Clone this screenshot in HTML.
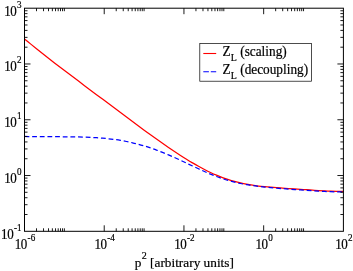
<!DOCTYPE html><html><head><meta charset="utf-8"><style>html,body{margin:0;padding:0;background:#fff;}svg{display:block;will-change:transform;opacity:0.9999}text{font-family:"Liberation Serif",serif;fill:#000;stroke:#000;stroke-width:0.2px}</style></head><body>
<svg width="353" height="271" viewBox="0 0 353 271">
<rect x="0" y="0" width="353" height="271" fill="#fff"/>
<path d="M24.50,38.90 C25.50,39.73 28.50,42.25 30.50,43.89 C32.50,45.54 34.50,47.16 36.50,48.77 C38.50,50.38 40.50,51.97 42.50,53.56 C44.50,55.14 46.50,56.71 48.50,58.26 C50.50,59.82 52.50,61.37 54.50,62.91 C56.50,64.45 58.50,65.98 60.50,67.51 C62.50,69.04 64.50,70.56 66.50,72.07 C68.50,73.59 70.50,75.10 72.50,76.61 C74.50,78.12 76.50,79.62 78.50,81.12 C80.50,82.63 82.50,84.13 84.50,85.63 C86.50,87.13 88.50,88.63 90.50,90.13 C92.50,91.63 94.50,93.13 96.50,94.63 C98.50,96.12 100.50,97.62 102.50,99.12 C104.50,100.62 106.50,102.12 108.50,103.62 C110.50,105.12 112.50,106.62 114.50,108.11 C116.50,109.61 118.50,111.11 120.50,112.60 C122.50,114.10 124.50,115.59 126.50,117.09 C128.50,118.58 130.50,120.07 132.50,121.55 C134.50,123.04 136.50,124.52 138.50,126.00 C140.50,127.47 142.50,128.94 144.50,130.41 C146.50,131.87 148.50,133.33 150.50,134.77 C152.50,136.22 154.50,137.66 156.50,139.09 C158.50,140.51 160.50,141.93 162.50,143.33 C164.50,144.73 166.50,146.11 168.50,147.48 C170.50,148.85 172.50,150.20 174.50,151.53 C176.50,152.86 178.50,154.17 180.50,155.46 C182.50,156.74 184.50,158.01 186.50,159.24 C188.50,160.48 190.50,161.69 192.50,162.86 C194.50,164.03 196.50,165.18 198.50,166.29 C200.50,167.39 202.50,168.47 204.50,169.50 C206.50,170.52 208.50,171.52 210.50,172.46 C212.50,173.41 214.50,174.31 216.50,175.16 C218.50,176.01 220.50,176.81 222.50,177.56 C224.50,178.31 226.50,179.00 228.50,179.65 C230.50,180.30 232.50,180.89 234.50,181.44 C236.50,181.99 238.50,182.49 240.50,182.95 C242.50,183.40 244.50,183.81 246.50,184.18 C248.50,184.56 250.50,184.89 252.50,185.19 C254.50,185.50 256.50,185.76 258.50,186.01 C260.50,186.26 262.50,186.47 264.50,186.68 C266.50,186.88 268.50,187.06 270.50,187.23 C272.50,187.40 274.50,187.55 276.50,187.70 C278.50,187.85 280.50,187.98 282.50,188.12 C284.50,188.26 286.50,188.39 288.50,188.52 C290.50,188.65 292.50,188.78 294.50,188.92 C296.50,189.05 298.50,189.18 300.50,189.32 C302.50,189.45 304.50,189.59 306.50,189.72 C308.50,189.86 310.50,190.00 312.50,190.13 C314.50,190.26 316.50,190.40 318.50,190.52 C320.50,190.64 322.50,190.76 324.50,190.86 C326.50,190.96 328.50,191.06 330.50,191.13 C332.50,191.20 334.50,191.26 336.50,191.28 C338.50,191.30 341.35,191.27 342.50,191.26 C343.65,191.26 343.25,191.24 343.40,191.24" fill="none" stroke="#ff0000" stroke-width="1.25"/>
<path d="M24.50,136.44 C25.50,136.46 28.50,136.52 30.50,136.56 C32.50,136.59 34.50,136.62 36.50,136.64 C38.50,136.66 40.50,136.67 42.50,136.68 C44.50,136.70 46.50,136.70 48.50,136.71 C50.50,136.72 52.50,136.72 54.50,136.73 C56.50,136.73 58.50,136.74 60.50,136.75 C62.50,136.76 64.50,136.77 66.50,136.79 C68.50,136.80 70.50,136.82 72.50,136.85 C74.50,136.88 76.50,136.92 78.50,136.97 C80.50,137.02 82.50,137.07 84.50,137.14 C86.50,137.22 88.50,137.30 90.50,137.40 C92.50,137.50 94.50,137.61 96.50,137.74 C98.50,137.87 100.50,138.02 102.50,138.20 C104.50,138.37 106.50,138.56 108.50,138.78 C110.50,139.00 112.50,139.24 114.50,139.51 C116.50,139.78 118.50,140.08 120.50,140.41 C122.50,140.74 124.50,141.10 126.50,141.49 C128.50,141.89 130.50,142.31 132.50,142.78 C134.50,143.24 136.50,143.74 138.50,144.28 C140.50,144.81 142.50,145.38 144.50,145.99 C146.50,146.60 148.50,147.24 150.50,147.92 C152.50,148.60 154.50,149.31 156.50,150.06 C158.50,150.80 160.50,151.58 162.50,152.39 C164.50,153.19 166.50,154.03 168.50,154.88 C170.50,155.74 172.50,156.63 174.50,157.53 C176.50,158.43 178.50,159.35 180.50,160.28 C182.50,161.21 184.50,162.16 186.50,163.11 C188.50,164.06 190.50,165.02 192.50,165.96 C194.50,166.91 196.50,167.86 198.50,168.79 C200.50,169.72 202.50,170.65 204.50,171.54 C206.50,172.43 208.50,173.30 210.50,174.14 C212.50,174.97 214.50,175.77 216.50,176.53 C218.50,177.29 220.50,178.00 222.50,178.68 C224.50,179.35 226.50,179.97 228.50,180.55 C230.50,181.13 232.50,181.67 234.50,182.16 C236.50,182.65 238.50,183.10 240.50,183.51 C242.50,183.92 244.50,184.29 246.50,184.63 C248.50,184.98 250.50,185.28 252.50,185.57 C254.50,185.86 256.50,186.12 258.50,186.36 C260.50,186.61 262.50,186.83 264.50,187.04 C266.50,187.25 268.50,187.44 270.50,187.62 C272.50,187.81 274.50,187.98 276.50,188.15 C278.50,188.32 280.50,188.47 282.50,188.63 C284.50,188.79 286.50,188.94 288.50,189.09 C290.50,189.24 292.50,189.38 294.50,189.53 C296.50,189.67 298.50,189.82 300.50,189.96 C302.50,190.10 304.50,190.24 306.50,190.37 C308.50,190.51 310.50,190.64 312.50,190.77 C314.50,190.89 316.50,191.01 318.50,191.13 C320.50,191.24 322.50,191.34 324.50,191.43 C326.50,191.52 328.50,191.60 330.50,191.66 C332.50,191.72 334.50,191.77 336.50,191.78 C338.50,191.80 341.35,191.77 342.50,191.76 C343.65,191.75 343.25,191.74 343.40,191.74" fill="none" stroke="#0000ff" stroke-width="1.25" stroke-dasharray="4.8,2.85"/>
<rect x="24.50" y="8.20" width="318.90" height="223.10" fill="none" stroke="#000" stroke-width="1.0"/>
<path d="M24.50,214.51 h3.00 M343.40,214.51 h-3.00 M24.50,204.69 h3.00 M343.40,204.69 h-3.00 M24.50,197.72 h3.00 M343.40,197.72 h-3.00 M24.50,192.31 h3.00 M343.40,192.31 h-3.00 M24.50,187.90 h3.00 M343.40,187.90 h-3.00 M24.50,184.16 h3.00 M343.40,184.16 h-3.00 M24.50,180.93 h3.00 M343.40,180.93 h-3.00 M24.50,178.08 h3.00 M343.40,178.08 h-3.00 M24.50,175.53 h6.00 M343.40,175.53 h-6.00 M24.50,158.74 h3.00 M343.40,158.74 h-3.00 M24.50,148.91 h3.00 M343.40,148.91 h-3.00 M24.50,141.95 h3.00 M343.40,141.95 h-3.00 M24.50,136.54 h3.00 M343.40,136.54 h-3.00 M24.50,132.12 h3.00 M343.40,132.12 h-3.00 M24.50,128.39 h3.00 M343.40,128.39 h-3.00 M24.50,125.16 h3.00 M343.40,125.16 h-3.00 M24.50,122.30 h3.00 M343.40,122.30 h-3.00 M24.50,119.75 h6.00 M343.40,119.75 h-6.00 M24.50,102.96 h3.00 M343.40,102.96 h-3.00 M24.50,93.14 h3.00 M343.40,93.14 h-3.00 M24.50,86.17 h3.00 M343.40,86.17 h-3.00 M24.50,80.76 h3.00 M343.40,80.76 h-3.00 M24.50,76.35 h3.00 M343.40,76.35 h-3.00 M24.50,72.61 h3.00 M343.40,72.61 h-3.00 M24.50,69.38 h3.00 M343.40,69.38 h-3.00 M24.50,66.53 h3.00 M343.40,66.53 h-3.00 M24.50,63.98 h6.00 M343.40,63.98 h-6.00 M24.50,47.19 h3.00 M343.40,47.19 h-3.00 M24.50,37.36 h3.00 M343.40,37.36 h-3.00 M24.50,30.40 h3.00 M343.40,30.40 h-3.00 M24.50,24.99 h3.00 M343.40,24.99 h-3.00 M24.50,20.57 h3.00 M343.40,20.57 h-3.00 M24.50,16.84 h3.00 M343.40,16.84 h-3.00 M24.50,13.61 h3.00 M343.40,13.61 h-3.00 M24.50,10.75 h3.00 M343.40,10.75 h-3.00 M36.50,231.30 v-3.00 M36.50,8.20 v3.00 M43.52,231.30 v-3.00 M43.52,8.20 v3.00 M48.50,231.30 v-3.00 M48.50,8.20 v3.00 M52.36,231.30 v-3.00 M52.36,8.20 v3.00 M55.52,231.30 v-3.00 M55.52,8.20 v3.00 M58.19,231.30 v-3.00 M58.19,8.20 v3.00 M60.50,231.30 v-3.00 M60.50,8.20 v3.00 M62.54,231.30 v-3.00 M62.54,8.20 v3.00 M64.36,231.30 v-3.00 M64.36,8.20 v3.00 M104.22,231.30 v-6.00 M104.22,8.20 v6.00 M116.22,231.30 v-3.00 M116.22,8.20 v3.00 M123.24,231.30 v-3.00 M123.24,8.20 v3.00 M128.22,231.30 v-3.00 M128.22,8.20 v3.00 M132.09,231.30 v-3.00 M132.09,8.20 v3.00 M135.24,231.30 v-3.00 M135.24,8.20 v3.00 M137.91,231.30 v-3.00 M137.91,8.20 v3.00 M140.22,231.30 v-3.00 M140.22,8.20 v3.00 M142.26,231.30 v-3.00 M142.26,8.20 v3.00 M144.09,231.30 v-3.00 M144.09,8.20 v3.00 M183.95,231.30 v-6.00 M183.95,8.20 v6.00 M195.95,231.30 v-3.00 M195.95,8.20 v3.00 M202.97,231.30 v-3.00 M202.97,8.20 v3.00 M207.95,231.30 v-3.00 M207.95,8.20 v3.00 M211.81,231.30 v-3.00 M211.81,8.20 v3.00 M214.97,231.30 v-3.00 M214.97,8.20 v3.00 M217.64,231.30 v-3.00 M217.64,8.20 v3.00 M219.95,231.30 v-3.00 M219.95,8.20 v3.00 M221.99,231.30 v-3.00 M221.99,8.20 v3.00 M223.81,231.30 v-3.00 M223.81,8.20 v3.00 M263.67,231.30 v-6.00 M263.67,8.20 v6.00 M275.67,231.30 v-3.00 M275.67,8.20 v3.00 M282.69,231.30 v-3.00 M282.69,8.20 v3.00 M287.67,231.30 v-3.00 M287.67,8.20 v3.00 M291.54,231.30 v-3.00 M291.54,8.20 v3.00 M294.69,231.30 v-3.00 M294.69,8.20 v3.00 M297.36,231.30 v-3.00 M297.36,8.20 v3.00 M299.67,231.30 v-3.00 M299.67,8.20 v3.00 M301.71,231.30 v-3.00 M301.71,8.20 v3.00 M303.54,231.30 v-3.00 M303.54,8.20 v3.00" fill="none" stroke="#000" stroke-width="0.9"/>
<g transform="translate(21.50,15.60) scale(0.93,1)"><text x="0" y="0" text-anchor="end" font-size="14"><tspan>1</tspan><tspan dx="-0.5">0</tspan><tspan font-size="9.8" dy="-8.0" dx="0.3">3</tspan></text></g>
<g transform="translate(21.50,71.38) scale(0.93,1)"><text x="0" y="0" text-anchor="end" font-size="14"><tspan>1</tspan><tspan dx="-0.5">0</tspan><tspan font-size="9.8" dy="-8.0" dx="0.3">2</tspan></text></g>
<g transform="translate(21.50,127.15) scale(0.93,1)"><text x="0" y="0" text-anchor="end" font-size="14"><tspan>1</tspan><tspan dx="-0.5">0</tspan><tspan font-size="9.8" dy="-8.0" dx="0.3">1</tspan></text></g>
<g transform="translate(21.50,182.93) scale(0.93,1)"><text x="0" y="0" text-anchor="end" font-size="14"><tspan>1</tspan><tspan dx="-0.5">0</tspan><tspan font-size="9.8" dy="-8.0" dx="0.3">0</tspan></text></g>
<g transform="translate(21.50,238.70) scale(0.93,1)"><text x="0" y="0" text-anchor="end" font-size="14"><tspan>1</tspan><tspan dx="-0.5">0</tspan><tspan font-size="9.8" dy="-8.0" dx="0.3">-1</tspan></text></g>
<g transform="translate(25.00,249.00) scale(0.93,1)"><text x="0" y="0" text-anchor="middle" font-size="14"><tspan>1</tspan><tspan dx="-0.5">0</tspan><tspan font-size="9.8" dy="-8.0" dx="0.3">-6</tspan></text></g>
<g transform="translate(104.72,249.00) scale(0.93,1)"><text x="0" y="0" text-anchor="middle" font-size="14"><tspan>1</tspan><tspan dx="-0.5">0</tspan><tspan font-size="9.8" dy="-8.0" dx="0.3">-4</tspan></text></g>
<g transform="translate(184.45,249.00) scale(0.93,1)"><text x="0" y="0" text-anchor="middle" font-size="14"><tspan>1</tspan><tspan dx="-0.5">0</tspan><tspan font-size="9.8" dy="-8.0" dx="0.3">-2</tspan></text></g>
<g transform="translate(264.17,249.00) scale(0.93,1)"><text x="0" y="0" text-anchor="middle" font-size="14"><tspan>1</tspan><tspan dx="-0.5">0</tspan><tspan font-size="9.8" dy="-8.0" dx="0.3">0</tspan></text></g>
<g transform="translate(343.90,249.00) scale(0.93,1)"><text x="0" y="0" text-anchor="middle" font-size="14"><tspan>1</tspan><tspan dx="-0.5">0</tspan><tspan font-size="9.8" dy="-8.0" dx="0.3">2</tspan></text></g>
<text x="184.3" y="267" text-anchor="middle" font-size="13.3"><tspan>p</tspan><tspan font-size="10" dy="-8.2" dx="0.4">2</tspan><tspan dy="8.2"> [arbitrary units]</tspan></text>
<rect x="199.8" y="43.6" width="111.7" height="37.6" fill="#fff" stroke="#000" stroke-width="0.7"/>
<path d="M203.3,53.5 H216.2" stroke="#ff0000" stroke-width="1.1" fill="none"/>
<path d="M203.3,71.8 H216.2" stroke="#0000ff" stroke-width="1.1" stroke-dasharray="5.6,1.9" fill="none"/>
<g transform="translate(222.4,55.8) scale(0.95,1)"><text x="0" y="0" font-size="14"><tspan>Z</tspan><tspan font-size="10.5" dy="4.7" dx="0.3">L</tspan><tspan dy="-4.7"> (scaling)</tspan></text></g>
<g transform="translate(222.4,74.1) scale(0.95,1)"><text x="0" y="0" font-size="14"><tspan>Z</tspan><tspan font-size="10.5" dy="4.7" dx="0.3">L</tspan><tspan dy="-4.7"> (decoupling)</tspan></text></g>
</svg></body></html>
